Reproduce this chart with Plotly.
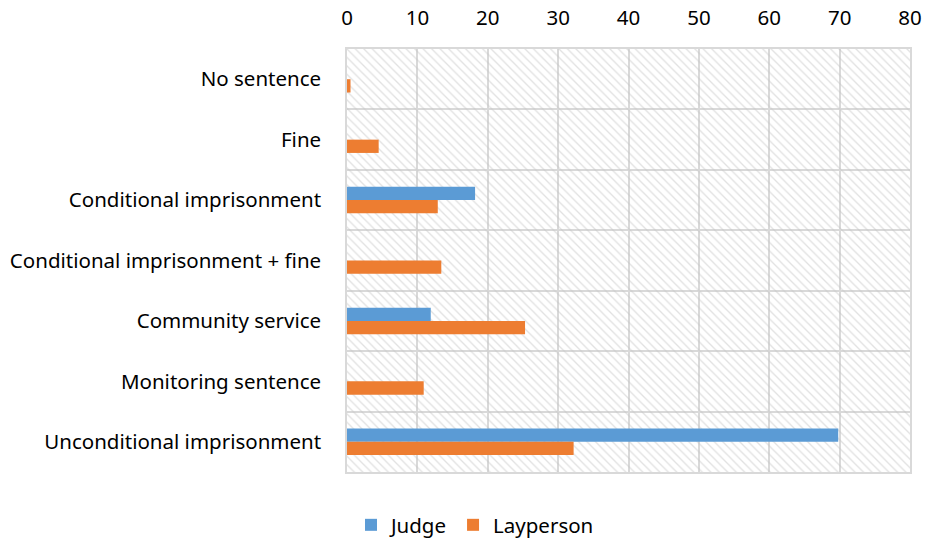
import plotly.graph_objects as go

categories = [
    "No sentence",
    "Fine",
    "Conditional imprisonment",
    "Conditional imprisonment + fine",
    "Community service",
    "Monitoring sentence",
    "Unconditional imprisonment",
]
judge = [0, 0, 18.2, 0, 11.9, 0, 69.8]
layperson = [0.5, 4.5, 12.9, 13.4, 25.3, 10.9, 32.2]
x_ticks = [0, 10, 20, 30, 40, 50, 60, 70, 80]
AXIS_MAX = 80

FONT = "Noto Sans"
FSIZE = 20.5
GRID = "#d9d9d9"
BAR_W = 0.22

fig = go.Figure()

# hatched plot-area background (decoration)
fig.add_trace(go.Bar(
    y=categories, x=[AXIS_MAX] * len(categories), orientation="h",
    width=1.0, offset=-0.5,
    marker=dict(color="rgba(0,0,0,0)", line=dict(width=0),
                pattern=dict(shape="\\", fgcolor="#c4c4c4", bgcolor="rgba(0,0,0,0)",
                             size=6, solidity=0.22)),
    showlegend=False, hoverinfo="skip",
))

fig.add_trace(go.Bar(
    y=categories, x=judge, orientation="h", name="Judge",
    width=BAR_W, offset=-BAR_W,
    marker=dict(color="#5B9BD5", line=dict(width=0)),
))
fig.add_trace(go.Bar(
    y=categories, x=layperson, orientation="h", name="Layperson",
    width=BAR_W, offset=0,
    marker=dict(color="#ED7D31", line=dict(width=0)),
))

fig.update_layout(
    width=925, height=540,
    margin=dict(l=347, r=15, t=49, b=68),
    paper_bgcolor="white", plot_bgcolor="white",
    barmode="overlay",
    font=dict(family=FONT, size=FSIZE, color="black"),
    xaxis=dict(
        side="top", range=[0, AXIS_MAX], tickvals=x_ticks, automargin=False,
        showgrid=True, gridcolor=GRID, gridwidth=1.5,
        zeroline=False, showline=True, linecolor=GRID, linewidth=1.5, mirror=True,
        ticks="", ticklabelstandoff=14,
        tickfont=dict(family=FONT, size=FSIZE, color="black"),
    ),
    yaxis=dict(
        type="category", categoryorder="array", categoryarray=categories,
        autorange="reversed", automargin=False,
        tickson="boundaries", showgrid=True, gridcolor=GRID, gridwidth=1.5,
        showline=True, linecolor=GRID, linewidth=1.5, mirror=True,
        ticks="", ticklabelstandoff=20,
        tickfont=dict(family=FONT, size=FSIZE, color="black"),
    ),
    legend=dict(
        orientation="h", x=475 / 925, xref="container", xanchor="center",
        y=1 - 525 / 540, yref="container", yanchor="middle",
        font=dict(family=FONT, size=FSIZE, color="black"),
        traceorder="normal",
    ),
)

fig.write_html("out.html", config={"displayModeBar": False},
               post_script="document.body.style.margin='0';")
